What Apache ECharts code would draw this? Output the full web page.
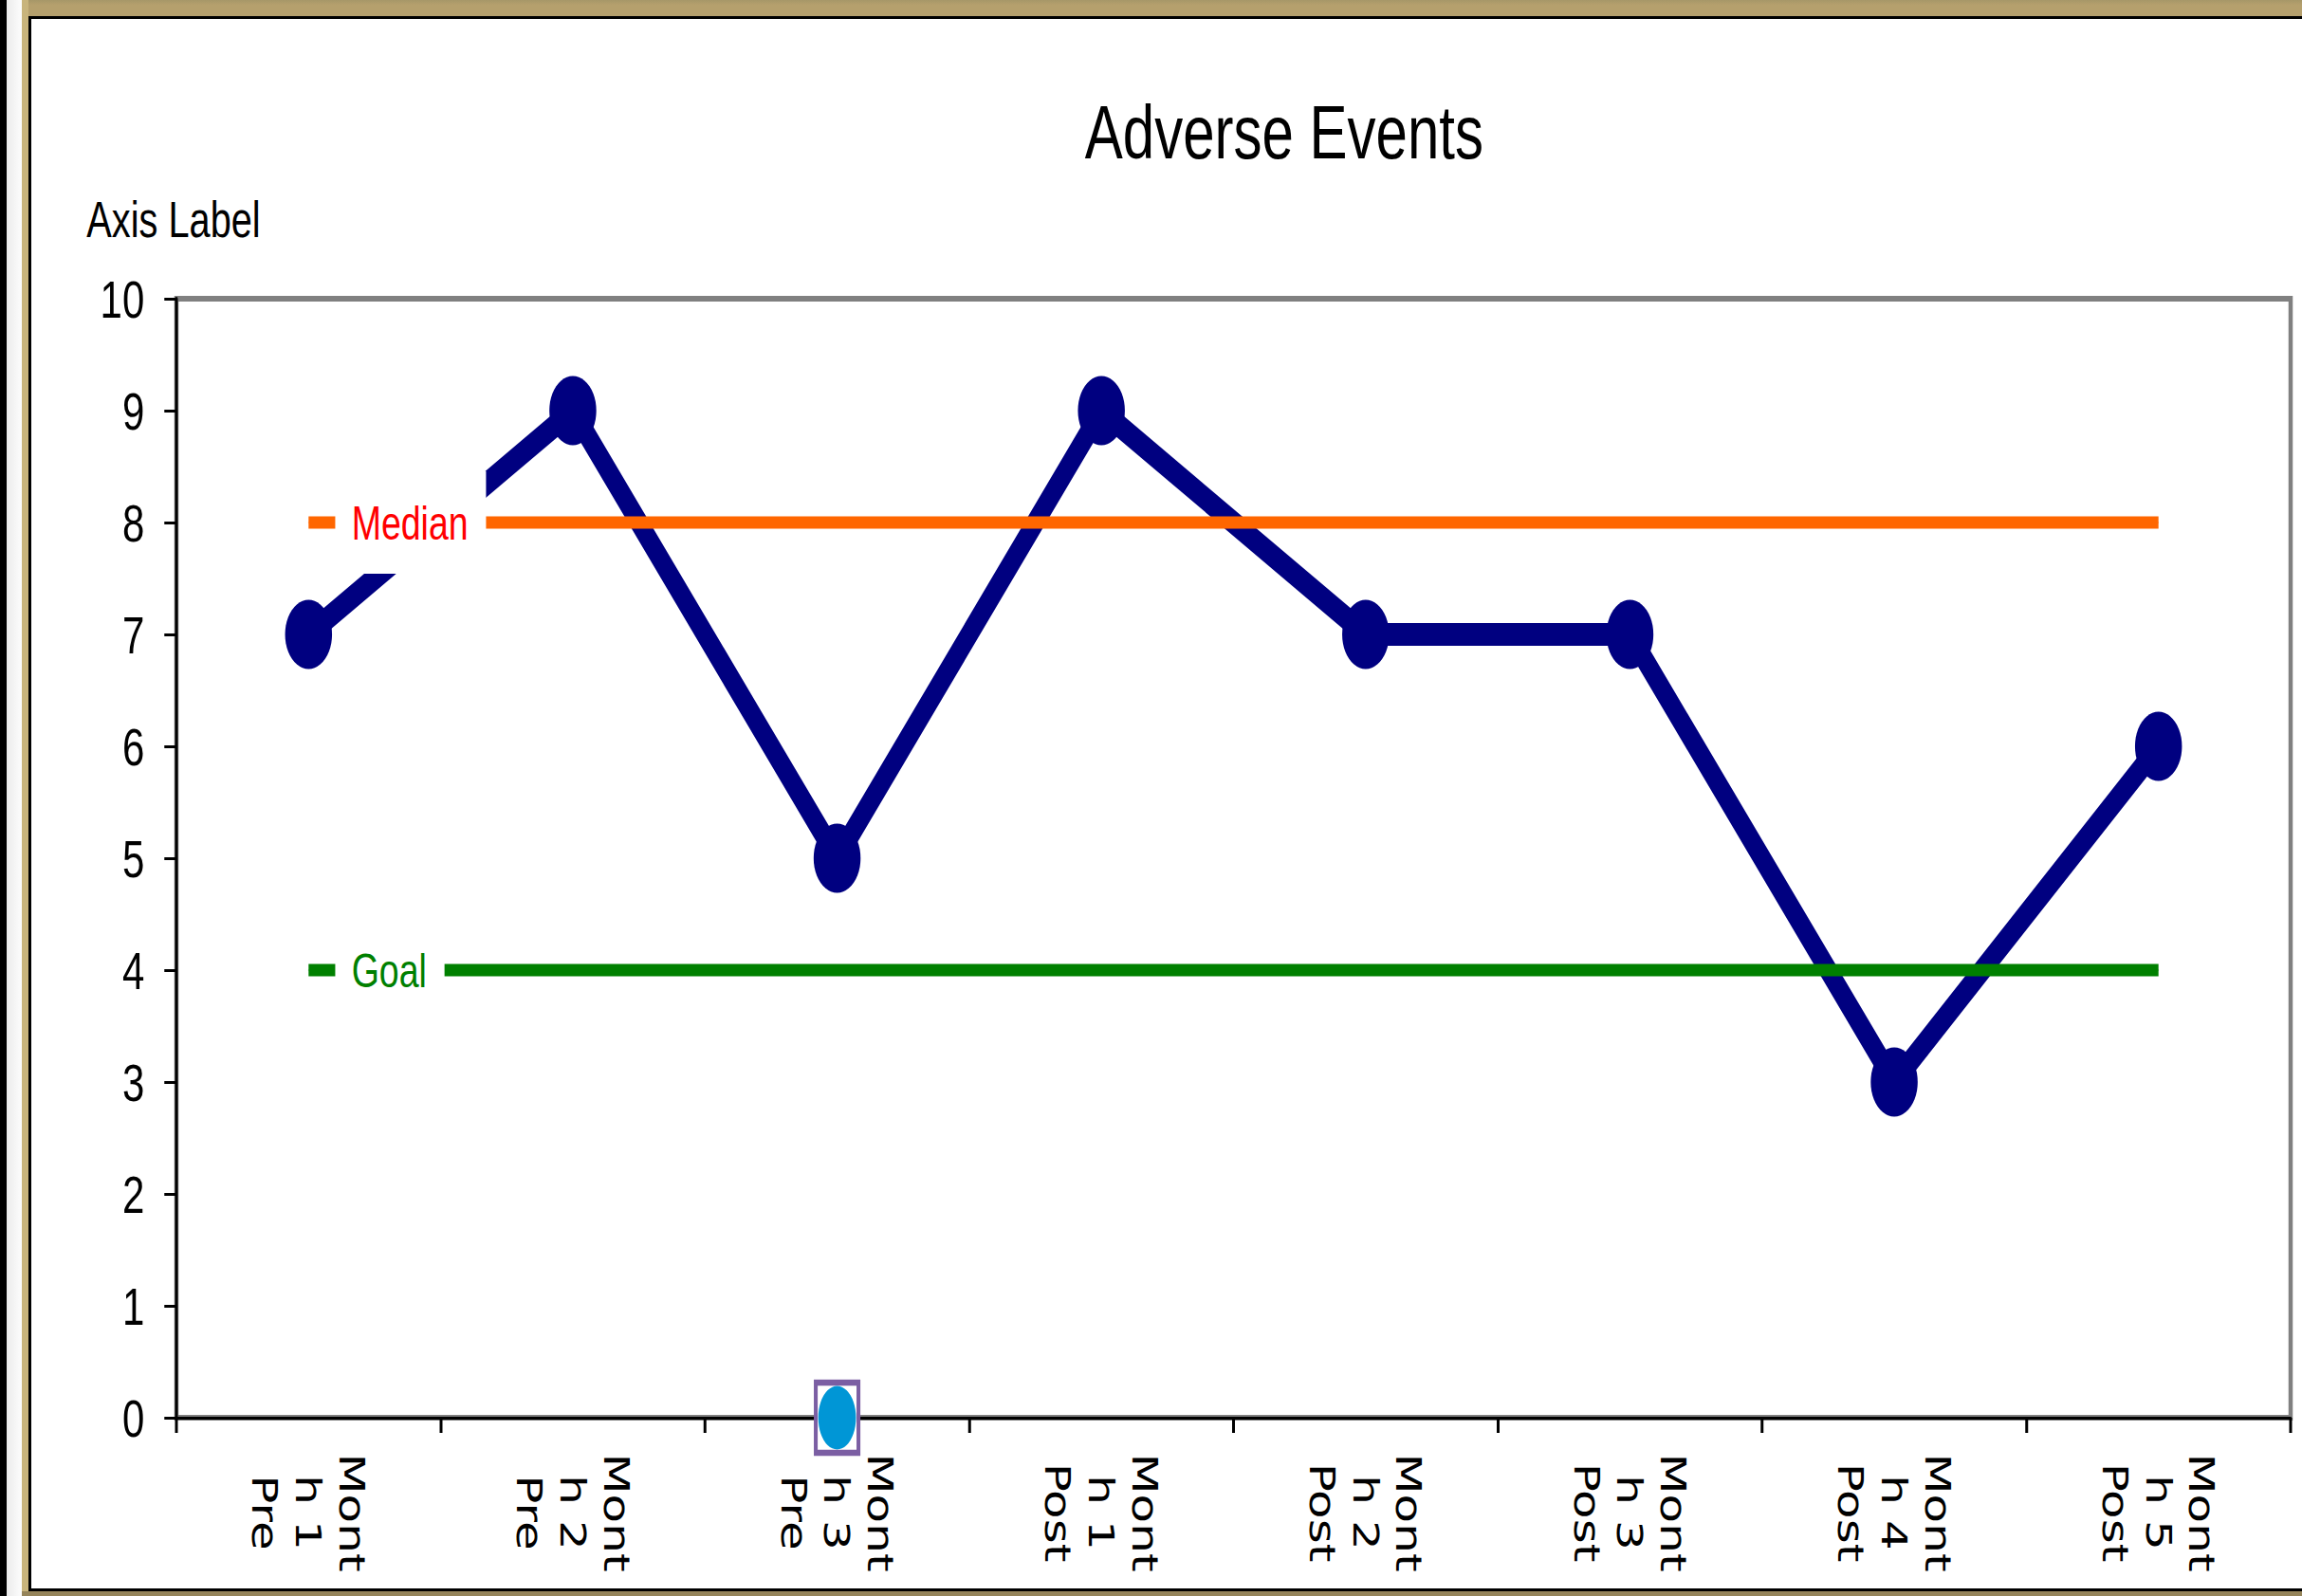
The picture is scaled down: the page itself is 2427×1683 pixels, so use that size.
<!DOCTYPE html>
<html>
<head>
<meta charset="utf-8">
<script src="https://cdn.jsdelivr.net/npm/echarts@6/dist/echarts.min.js"></script>
<style>
html,body{margin:0;padding:0;background:#fff;width:2427px;height:1683px;overflow:hidden;}
#chart{position:absolute;left:0;top:0;width:3236px;height:1683px;transform:scaleX(0.75);transform-origin:0 0;}
.f{position:absolute;z-index:10;}
</style>
</head>
<body>
<div id="chart"></div>
<div class="f" style="left:0;top:0;width:7px;height:1683px;background:#000"></div>
<div class="f" style="left:7px;top:0;width:16px;height:1683px;background:linear-gradient(to right,#ebebeb,#fdfdfd)"></div>
<div class="f" style="left:23px;top:0;width:2404px;height:17px;background:linear-gradient(#a69768,#b5a06d 30%,#b5a06d)"></div>
<div class="f" style="left:23px;top:0;width:7px;height:1683px;background:#c8b47c"></div>
<div class="f" style="left:30px;top:17px;width:2397px;height:3px;background:#000"></div>
<div class="f" style="left:30px;top:17px;width:3px;height:1661px;background:#000"></div>
<div class="f" style="left:30px;top:1675px;width:2397px;height:3px;background:#000"></div>
<div class="f" style="left:23px;top:1678px;width:2404px;height:5px;background:#95845a"></div>
<script>
// ---- data ----
const categories = ['Month 1 Pre', 'Month 2 Pre', 'Month 3 Pre', 'Month 1 Post', 'Month 2 Post', 'Month 3 Post', 'Month 4 Post', 'Month 5 Post'];
const adverseEvents = [7, 9, 5, 9, 7, 7, 3, 6];
const medianValues = [8, 8, 8, 8, 8, 8, 8, 8];
const goalValues = [4, 4, 4, 4, 4, 4, 4, 4];
const selectedValues = [null, null, 0, null, null, null, null, null];
const yMin = 0, yMax = 10, yInterval = 1;
const titleText = 'Adverse Events';
const yAxisName = 'Axis Label';

// ---- chart ----
const chart = echarts.init(document.getElementById('chart'), null, {renderer: 'svg'});

function splitCat(v) {
  const k = v.lastIndexOf(' ');
  return v.slice(0, 4) + '\n' + v.slice(4, k) + '\n' + v.slice(k + 1);
}
function refData(values, name, color) {
  return values.map((v, i) => i === 0 ? {value: v, label: {show: true, formatter: name, color: color}} : v);
}
const refLabel = {
  show: false, position: 'right', distance: 37,
  fontFamily: 'Liberation Sans', fontSize: 50,
  backgroundColor: '#ffffff', padding: [29, 25, 29, 23]
};

const option = {
  animation: false,
  backgroundColor: 'transparent',
  title: {
    text: titleText, left: 1520, top: 94,
    textStyle: {fontFamily: 'Liberation Sans', fontSize: 80, fontWeight: 'normal', color: '#000'}
  },
  grid: {left: 248, right: 16, top: 315, bottom: 188, show: true, borderColor: '#808080', borderWidth: 6, backgroundColor: 'transparent'},
  xAxis: {
    type: 'category', data: categories, boundaryGap: true,
    axisLine: {lineStyle: {color: '#000', width: 3}},
    axisTick: {show: true, length: 16, interval: 0, lineStyle: {color: '#000', width: 4}},
    axisLabel: {
      interval: 0, rotate: -90, align: 'center', verticalAlign: 'middle', margin: 100,
      formatter: splitCat, fontFamily: 'DejaVu Sans', fontSize: 50, lineHeight: 61, color: '#000'
    },
    splitLine: {show: false}
  },
  yAxis: {
    type: 'value', min: yMin, max: yMax, interval: yInterval,
    name: yAxisName, nameLocation: 'end', nameGap: 57,
    nameTextStyle: {fontFamily: 'Liberation Sans', fontSize: 53, color: '#000', padding: [0, 8, 0, 0]},
    axisLine: {show: true, lineStyle: {color: '#000', width: 4}},
    axisTick: {show: true, length: 17, lineStyle: {color: '#000', width: 3}},
    axisLabel: {margin: 45, fontFamily: 'Liberation Sans', fontSize: 56, color: '#000'},
    splitLine: {show: false}
  },
  series: [
    {
      name: 'Adverse Events', type: 'line', data: adverseEvents, z: 2, clip: false,
      symbol: 'circle', symbolSize: [66, 73],
      lineStyle: {color: '#000080', width: 24}, itemStyle: {color: '#000080'}
    },
    {
      name: 'Median', type: 'line', data: refData(medianValues, 'Median', '#FF0000'), z: 3, clip: false,
      symbol: 'circle', symbolSize: 1,
      lineStyle: {color: '#FF6600', width: 13}, itemStyle: {color: '#FF6600'},
      label: refLabel
    },
    {
      name: 'Goal', type: 'line', data: refData(goalValues, 'Goal', '#008000'), z: 3, clip: false,
      symbol: 'circle', symbolSize: 1,
      lineStyle: {color: '#008000', width: 13}, itemStyle: {color: '#008000'},
      label: refLabel
    },
    {
      name: 'Selected frame', type: 'scatter', data: selectedValues, z: 4, clip: false,
      symbol: 'rect', symbolSize: [60, 74],
      itemStyle: {color: '#ffffff', borderColor: '#7B5EA3', borderWidth: 6, opacity: 1}
    },
    {
      name: 'Selected point', type: 'scatter', data: selectedValues, z: 5, clip: false,
      symbol: 'circle', symbolSize: [53, 67],
      itemStyle: {color: '#0096D6', opacity: 1}
    }
  ]
};
chart.setOption(option);
</script>
</body>
</html>
